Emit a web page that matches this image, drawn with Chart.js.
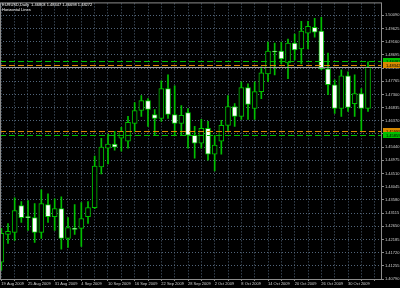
<!DOCTYPE html>
<html>
<head>
<meta charset="utf-8">
<script src="https://cdn.jsdelivr.net/npm/chart.js@4/dist/chart.umd.min.js"></script>
<style>
  html, body { margin: 0; padding: 0; background: #000; }
  canvas { display: block; }
</style>
</head>
<body>
<canvas id="chart" width="400" height="288"></canvas>
<script>
// ─── DATA ───────────────────────────────────────────────────────────────────────
var symbol = 'EURUSD,Daily';
var subTitle = 'Horizontal Lines';
var dates = [
    '19 Aug 2009', '20 Aug 2009', '21 Aug 2009', '24 Aug 2009', '25 Aug 2009', '26 Aug 2009', '27 Aug 2009', '28 Aug 2009', '31 Aug 2009',
    '1 Sep 2009', '2 Sep 2009', '3 Sep 2009', '4 Sep 2009', '7 Sep 2009', '8 Sep 2009', '9 Sep 2009', '10 Sep 2009', '11 Sep 2009',
    '14 Sep 2009', '15 Sep 2009', '16 Sep 2009', '17 Sep 2009', '18 Sep 2009', '21 Sep 2009', '22 Sep 2009', '23 Sep 2009', '24 Sep 2009',
    '25 Sep 2009', '28 Sep 2009', '29 Sep 2009', '30 Sep 2009',
    '1 Oct 2009', '2 Oct 2009', '5 Oct 2009', '6 Oct 2009', '7 Oct 2009', '8 Oct 2009', '9 Oct 2009', '12 Oct 2009', '13 Oct 2009',
    '14 Oct 2009', '15 Oct 2009', '16 Oct 2009', '19 Oct 2009', '20 Oct 2009', '21 Oct 2009', '22 Oct 2009', '23 Oct 2009', '26 Oct 2009',
    '27 Oct 2009', '28 Oct 2009', '29 Oct 2009', '30 Oct 2009',
    '2 Nov 2009', '3 Nov 2009', '4 Nov 2009'
];
var opens = [
    1.41384, 1.42363, 1.42433, 1.43377, 1.42992, 1.42957, 1.42433, 1.43412, 1.42992,
    1.43272, 1.42223, 1.42573, 1.42573, 1.42992, 1.43307, 1.44740, 1.45405, 1.45545,
    1.45754, 1.45649, 1.46279, 1.46733, 1.47083, 1.46593, 1.46454, 1.47503, 1.46593,
    1.46279, 1.46663, 1.45859, 1.45580,
    1.46104, 1.45195, 1.45649, 1.46209, 1.46873, 1.46524, 1.47538, 1.46803, 1.47398,
    1.48027, 1.48831, 1.48831, 1.48412, 1.49111, 1.48901, 1.49461, 1.49670, 1.49531,
    1.48202, 1.47642, 1.46803, 1.47957,
    1.46978, 1.47328, 1.46803
];
var highs = [
    1.42573, 1.42747, 1.43656, 1.43517, 1.43552, 1.43447, 1.43937, 1.43797, 1.43621,
    1.43691, 1.42957, 1.43412, 1.43482, 1.43517, 1.45125, 1.45754, 1.45894, 1.45999,
    1.46139, 1.46524, 1.47013, 1.47258, 1.47153, 1.46768, 1.47782, 1.47992, 1.47607,
    1.46908, 1.46803, 1.46174, 1.46419,
    1.46349, 1.45859, 1.46384, 1.47258, 1.46978, 1.47747, 1.47677, 1.47747, 1.48272,
    1.49146, 1.49111, 1.49146, 1.49251, 1.49426, 1.49880, 1.49880, 1.49985, 1.50020,
    1.48761, 1.47817, 1.48167, 1.48097,
    1.47992, 1.47503, 1.48447
];
var lows = [
    1.41104, 1.42048, 1.42153, 1.42782, 1.42503, 1.42083, 1.42223, 1.42782, 1.42503,
    1.41838, 1.41908, 1.42363, 1.41943, 1.42747, 1.43272, 1.44496, 1.44845, 1.45335,
    1.45300, 1.45405, 1.45999, 1.46524, 1.46174, 1.45859, 1.46349, 1.46454, 1.45859,
    1.45859, 1.45405, 1.45055, 1.45405,
    1.44985, 1.44601, 1.45195, 1.45999, 1.46174, 1.46419, 1.46419, 1.46419, 1.47153,
    1.47747, 1.47992, 1.48377, 1.47852, 1.48517, 1.48377, 1.48901, 1.49321, 1.48167,
    1.47293, 1.46628, 1.46524, 1.46698,
    1.46524, 1.45999, 1.46698
];
var closes = [
    1.42398, 1.42468, 1.43202, 1.42957, 1.42957, 1.42433, 1.43447, 1.42992, 1.43272,
    1.42223, 1.42607, 1.42538, 1.42922, 1.43307, 1.44775, 1.45440, 1.45545, 1.45440,
    1.45999, 1.46314, 1.46733, 1.47083, 1.46768, 1.46454, 1.47503, 1.46593, 1.46279,
    1.46559, 1.45859, 1.45580, 1.46104,
    1.45195, 1.45510, 1.46209, 1.46873, 1.46524, 1.47538, 1.46943, 1.47398, 1.48062,
    1.48831, 1.48796, 1.48552, 1.49111, 1.48866, 1.49531, 1.49705, 1.49496, 1.48202,
    1.47642, 1.46803, 1.47957, 1.46838,
    1.47328, 1.46803, 1.48272
];
var priceTicks = [
    1.50090, 1.49625, 1.49160, 1.48695, 1.48230, 1.47765, 1.47300, 1.46835, 1.46370, 1.45905, 1.45440,
    1.44975, 1.44510, 1.44045, 1.43580, 1.43115, 1.42650, 1.42185, 1.41720, 1.41255, 1.40790
];
var levels = [1.48482, 1.48342, 1.45999, 1.45859];
var levelKinds = ['support', 'resist', 'resist', 'support'];

// ─── STYLE ──────────────────────────────────────────────────────────────────────
var GREEN = '#00c000';
var ORANGE = '#d98a00';
var GRID = '#52657a';
var TEXT = '#d0d0d0';
var FRAME = '#8c8c8c';
var FONT = 'Liberation Sans';
Chart.defaults.font.family = FONT;

var bodyData = dates.map(function (d, i) { return { x: i, y: [opens[i], closes[i]] }; });
var wickData = dates.map(function (d, i) { return { x: i, y: [lows[i], highs[i]] }; });
var bodyFill = dates.map(function (d, i) { return closes[i] >= opens[i] ? '#000000' : '#ffffff'; });

// ─── PLUGINS ────────────────────────────────────────────────────────────────────
var terminalPlugin = {
    id: 'terminal',
    afterDatasetsDraw: function (chart) {
        var ctx = chart.ctx;
        var area = chart.chartArea;
        var y = chart.scales.y;
        ctx.save();
        // horizontal line objects
        ctx.lineWidth = 1;
        ctx.setLineDash([6, 3]);
        levels.forEach(function (v, i) {
            var py = Math.round(y.getPixelForValue(v)) + 0.5;
            ctx.strokeStyle = levelKinds[i] == 'support' ? GREEN : ORANGE;
            ctx.beginPath();
            ctx.moveTo(area.left, py);
            ctx.lineTo(area.right, py);
            ctx.stroke();
        });
        // bid line
        ctx.setLineDash([]);
        var bid = Math.round(y.getPixelForValue(closes[closes.length - 1])) + 0.5;
        ctx.strokeStyle = '#a0a0a0';
        ctx.beginPath();
        ctx.moveTo(area.left, bid);
        ctx.lineTo(area.right, bid);
        ctx.stroke();
        ctx.restore();
    },
    afterDraw: function (chart) {
        var ctx = chart.ctx;
        var area = chart.chartArea;
        var y = chart.scales.y;
        ctx.save();
        // frame
        ctx.strokeStyle = FRAME;
        ctx.lineWidth = 1;
        ctx.strokeRect(area.left + 0.5, area.top - 0.5, area.right - area.left - 1, area.bottom - area.top + 1);
        // header
        var last = closes.length - 1;
        ctx.fillStyle = '#ffffff';
        ctx.font = '4px ' + FONT;
        ctx.textBaseline = 'top';
        ctx.fillText(symbol + '  ' + [opens[last], highs[last], lows[last], closes[last]].map(function (v) { return v.toFixed(5); }).join(' '), 2, 2.5);
        ctx.fillText(subTitle, 2, 7.5);
        // price labels of the lines on the axis
        ctx.textBaseline = 'middle';
        levels.forEach(function (v, i) {
            var py = Math.round(y.getPixelForValue(v));
            ctx.fillStyle = levelKinds[i] == 'support' ? GREEN : ORANGE;
            ctx.fillRect(area.right + 1, py - 3, 400 - area.right, 6);
            ctx.fillStyle = '#000000';
            ctx.fillText(v.toFixed(5), area.right + 4, py + 0.5);
        });
        ctx.restore();
    }
};

// ─── CHART ──────────────────────────────────────────────────────────────────────
var chart = new Chart(document.getElementById('chart'), {
    type: 'bar',
    data: {
        datasets: [
            {
                data: bodyData,
                backgroundColor: bodyFill,
                borderColor: GREEN,
                borderWidth: 1,
                borderSkipped: false,
                barThickness: 5,
                grouped: false,
                order: 0
            },
            {
                data: wickData,
                backgroundColor: GREEN,
                borderWidth: 0,
                barThickness: 1,
                grouped: false,
                order: 1
            }
        ]
    },
    options: {
        responsive: false,
        animation: false,
        events: [],
        layout: { padding: { top: 1, left: 0, right: 0, bottom: 0 } },
        plugins: { legend: { display: false }, tooltip: { enabled: false } },
        scales: {
            x: {
                type: 'linear',
                offset: false,
                min: -0.2,
                max: 57.1,
                afterBuildTicks: function (scale) {
                    var t = [];
                    for (var i = 0; i <= 56; i += 2) t.push({ value: i });
                    scale.ticks = t;
                },
                afterFit: function (scale) { scale.height = 9; },
                grid: { color: GRID, lineWidth: 1, offset: false, tickLength: 2, tickColor: FRAME },
                border: { display: false, dash: [1, 2] },
                ticks: {
                    align: 'start',
                    autoSkip: false,
                    maxRotation: 0,
                    minRotation: 0,
                    padding: 0,
                    color: TEXT,
                    font: { size: 4 },
                    callback: function (v) { return v % 4 === 0 && v < dates.length ? dates[v] : ''; }
                }
            },
            y: {
                type: 'linear',
                position: 'right',
                min: 1.40790,
                max: 1.50510,
                afterBuildTicks: function (scale) {
                    scale.ticks = priceTicks.map(function (v) { return { value: v }; });
                },
                afterFit: function (scale) { scale.width = 18; },
                grid: { color: GRID, lineWidth: 1, tickLength: 2, tickColor: FRAME },
                border: { display: false, dash: [1, 2] },
                ticks: {
                    padding: 1,
                    color: TEXT,
                    font: { size: 4 },
                    callback: function (v) { return v.toFixed(5); }
                }
            }
        }
    },
    plugins: [terminalPlugin]
});
</script>
</body>
</html>
